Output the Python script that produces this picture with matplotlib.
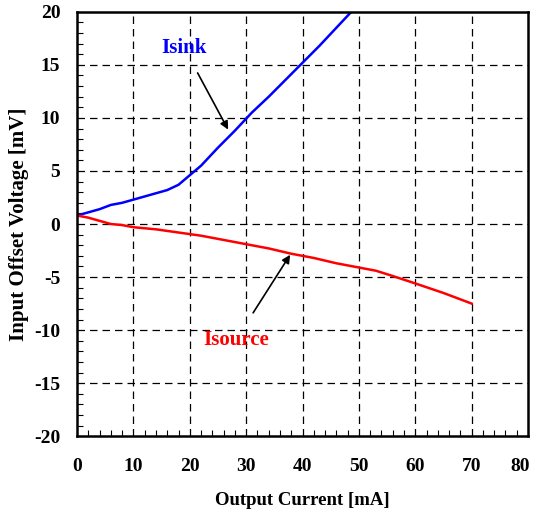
import matplotlib.pyplot as plt
from matplotlib.ticker import MultipleLocator
from matplotlib.transforms import ScaledTranslation

# data
isink_ma = [0, 2, 4, 6, 8, 10, 12, 14, 16, 18, 20, 22, 25, 28, 31, 34, 37, 40, 43, 46, 49]
isink_mv = [0.8, 1.1, 1.4, 1.8, 2.0, 2.3, 2.6, 2.9, 3.2, 3.7, 4.6, 5.5, 7.2, 8.8, 10.5, 12.0, 13.6, 15.2, 16.8, 18.5, 20.2]
isource_ma = [0, 2, 4, 6, 8, 10, 14, 18, 22, 26, 30, 34, 38, 42, 46, 50, 53, 56, 60, 65, 70]
isource_mv = [0.8, 0.6, 0.3, 0.0, -0.1, -0.3, -0.5, -0.8, -1.1, -1.5, -1.9, -2.3, -2.8, -3.2, -3.7, -4.1, -4.4, -4.9, -5.6, -6.5, -7.5]

x_ticks = [0, 10, 20, 30, 40, 50, 60, 70, 80]
y_ticks = [-20, -15, -10, -5, 0, 5, 10, 15, 20]

plt.rcParams['font.family'] = 'Liberation Serif'
plt.rcParams['font.weight'] = 'bold'
plt.rcParams['axes.unicode_minus'] = False

fig = plt.figure(figsize=(5.35, 5.15), dpi=100)
ax = fig.add_axes([0.144, 0.153, 0.843, 0.824])

ax.plot(isink_ma, isink_mv, color='#0000ff', lw=1.8)
ax.plot(isource_ma, isource_mv, color='#ff0000', lw=1.8)

ax.set_xlim(0, 80)
ax.set_ylim(-20, 20)
ax.set_xticks(x_ticks)
ax.set_yticks(y_ticks)
ax.xaxis.set_minor_locator(MultipleLocator(2))
ax.yaxis.set_minor_locator(MultipleLocator(1))
ax.tick_params(which='both', direction='in', labelsize=14, top=False, right=False)
ax.tick_params(axis='x', which='major', length=0, pad=16)
ax.tick_params(axis='y', which='major', length=0, pad=12)
ax.tick_params(which='minor', length=4, width=0.8)
for lbl in ax.get_xticklabels() + ax.get_yticklabels():
    lbl.set_fontweight('bold')
# last x label sits right at the figure edge, nudge it in
last = ax.get_xticklabels()[-1]
last.set_transform(last.get_transform() + ScaledTranslation(-6 / 72, 0, fig.dpi_scale_trans))

for x in x_ticks[1:-1]:
    ax.axvline(x, color='black', lw=0.9, ls=(0, (6, 4)), zorder=0)
for y in y_ticks[1:-1]:
    ax.axhline(y, color='black', lw=0.9, ls=(0, (6, 4)), zorder=0)

for s in ax.spines.values():
    s.set_linewidth(1.8)

ax.set_xlabel('Output Current [mA]', fontsize=13.5, fontweight='bold', labelpad=12)
ax.set_ylabel('Input Offset Voltage [mV]', fontsize=15, fontweight='bold', labelpad=4)

ax.annotate('Isink', xy=(26.8, 8.9), xytext=(19, 16.6), color='#0000ff',
            fontsize=15, fontweight='bold', ha='center', va='center',
            arrowprops=dict(arrowstyle='-|>', color='black', lw=1.2,
                            shrinkA=10, shrinkB=0, mutation_scale=12))
ax.annotate('Isource', xy=(37.8, -2.9), xytext=(28.2, -10.9), color='#ff0000',
            fontsize=15, fontweight='bold', ha='center', va='center',
            arrowprops=dict(arrowstyle='-|>', color='black', lw=1.2,
                            shrinkA=12, shrinkB=0, mutation_scale=12))

fig.savefig('out.png', dpi=100)
